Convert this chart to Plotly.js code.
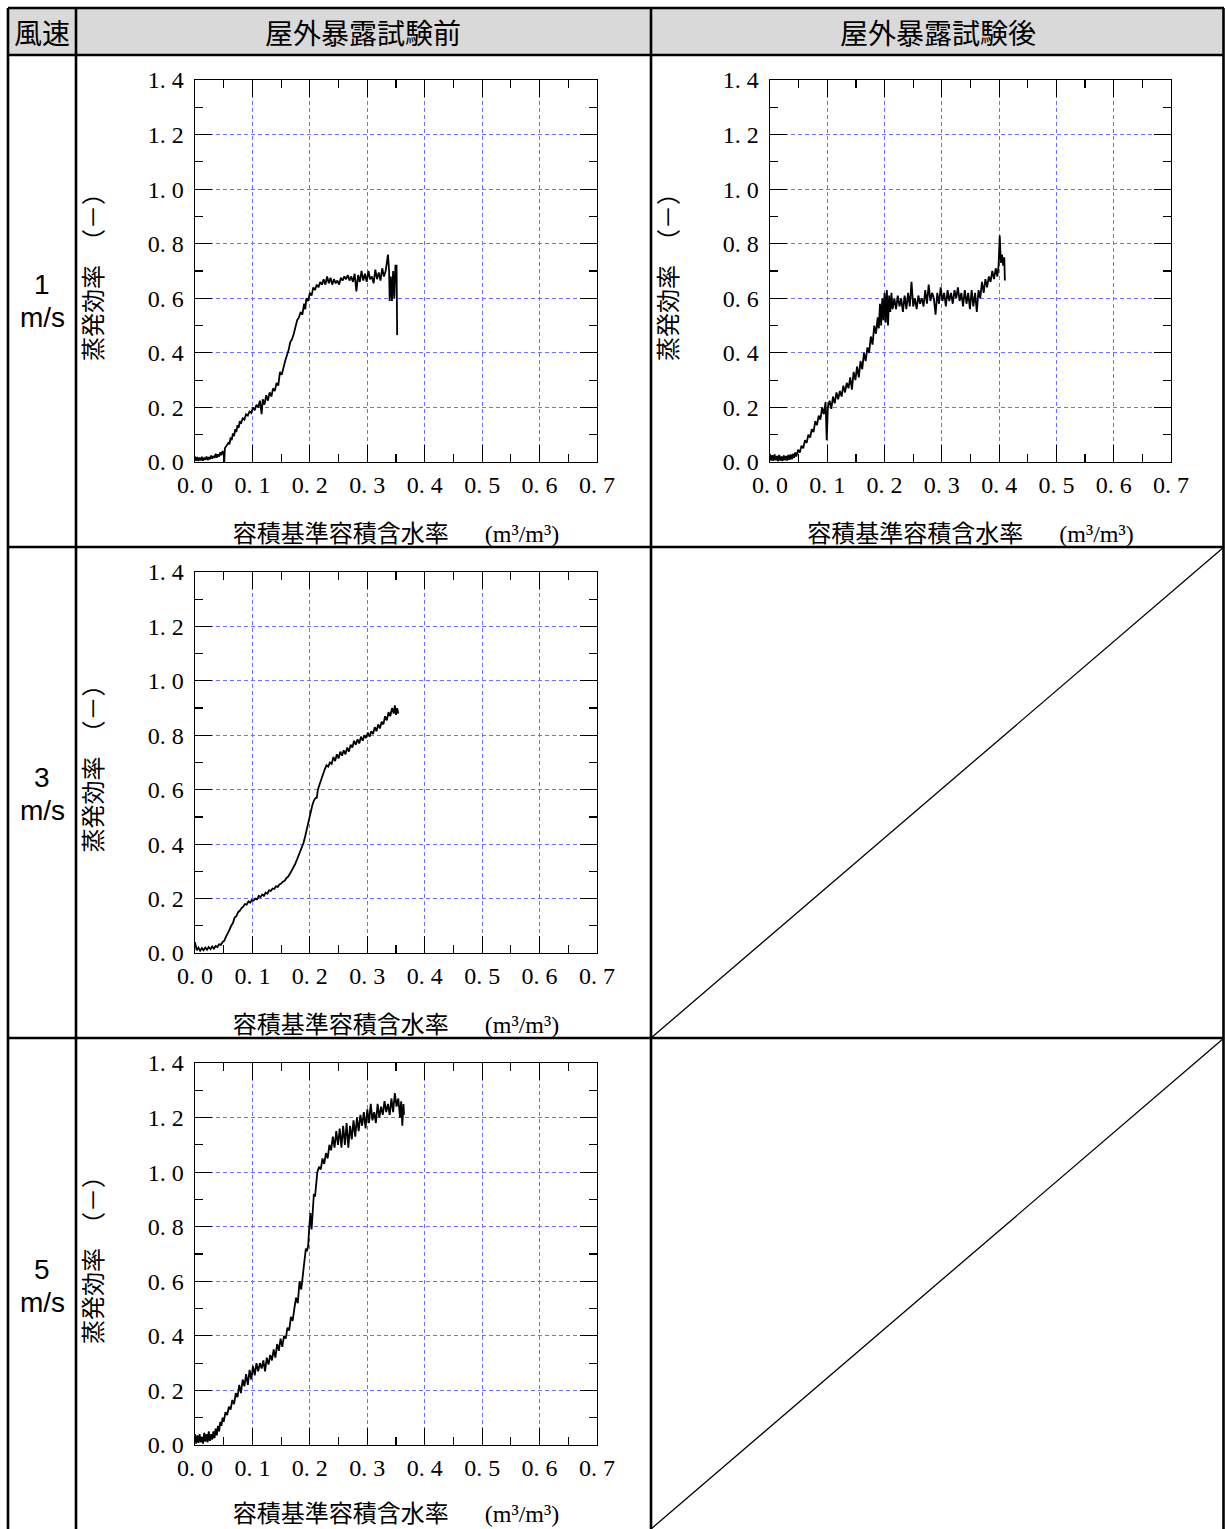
<!DOCTYPE html>
<html>
<head>
<meta charset="utf-8">
<script src="https://cdn.plot.ly/plotly-3.0.1.min.js"></script>
<style>html,body{margin:0;padding:0;background:#fff;}</style>
</head>
<body>
<div id="chart" style="width:1225px;height:1529px;"></div>
<script>
// ---------------- data ----------------
const headerSpeed = '風速';
const headerBefore = '屋外暴露試験前';
const headerAfter = '屋外暴露試験後';
const rowSpeeds = ['1', '3', '5'];
const rowUnit = 'm/s';
const xTitle = '容積基準容積含水率';
const xUnit = '(m³/m³)';
const yTitle = '蒸発効率　（－）';

const xTickVals = [0, 0.1, 0.2, 0.3, 0.4, 0.5, 0.6, 0.7];
const xTickText = ['0. 0', '0. 1', '0. 2', '0. 3', '0. 4', '0. 5', '0. 6', '0. 7'];
const yTickVals = [0, 0.2, 0.4, 0.6, 0.8, 1.0, 1.2, 1.4];
const yTickText = ['0. 0', '0. 2', '0. 4', '0. 6', '0. 8', '1. 0', '1. 2', '1. 4'];

// 1 m/s, before outdoor exposure
const wind1BeforeX = [0,0.002,0.004,0.006,0.008,0.010,0.012,0.014,0.016,0.018,0.020,0.022,0.024,0.026,0.028,0.030,0.032,0.034,0.036,0.038,0.040,0.042,0.044,0.046,0.048,0.050,0.051,0.052,
0.055,0.058,0.060,0.062,0.064,0.066,0.068,0.070,0.072,0.074,0.076,0.078,0.080,0.083,0.086,0.089,0.092,0.095,0.098,0.101,0.104,0.107,0.110,0.113,0.116,0.118,0.121,0.124,0.127,0.130,0.133,0.136,0.139,0.142,0.145,0.148,0.151,0.154,0.157,0.160,0.163,0.166,0.169,0.172,0.175,0.178,0.181,0.184,0.187,0.190,0.192,0.194,0.197,0.200,0.203,0.206,0.209,0.212,0.215,0.218,0.221,0.224,0.227,0.230,0.233,0.236,0.239,0.242,0.245,0.248,0.251,0.254,0.257,0.260,0.263,0.266,0.269,0.272,0.275,0.278,0.281,0.284,0.287,0.290,0.293,0.296,0.299,0.302,0.305,0.308,0.311,0.314,0.317,0.320,0.323,0.326,0.329,0.332,0.334,0.336,0.338,0.339,0.341,0.343,0.345,0.347,0.349,0.351,0.352];
const wind1BeforeY = [0.02,0.005,0.018,0.004,0.016,0.006,0.019,0.005,0.014,0.008,0.02,0.007,0.018,0.01,0.024,0.012,0.022,0.015,0.03,0.016,0.028,0.02,0.035,0.025,0.04,0.03,0.0,0.05,
0.06,0.07,0.065,0.09,0.08,0.105,0.095,0.12,0.11,0.135,0.125,0.15,0.14,0.16,0.155,0.175,0.17,0.185,0.18,0.2,0.19,0.21,0.2,0.225,0.175,0.23,0.21,0.245,0.225,0.255,0.24,0.27,0.26,0.29,0.28,0.33,0.32,0.35,0.37,0.39,0.41,0.44,0.45,0.47,0.5,0.52,0.53,0.55,0.54,0.58,0.56,0.6,0.59,0.62,0.61,0.64,0.63,0.65,0.64,0.66,0.65,0.67,0.65,0.68,0.655,0.675,0.65,0.67,0.655,0.665,0.65,0.675,0.665,0.68,0.67,0.685,0.665,0.68,0.66,0.69,0.625,0.685,0.66,0.7,0.665,0.69,0.66,0.7,0.67,0.68,0.655,0.705,0.67,0.695,0.665,0.71,0.68,0.7,0.73,0.76,0.7,0.59,0.68,0.59,0.7,0.6,0.72,0.72,0.465];

// 1 m/s, after outdoor exposure
const wind1AfterX = [0,0.002,0.004,0.006,0.008,0.010,0.012,0.014,0.016,0.018,0.020,0.022,0.024,0.026,0.028,0.030,0.032,0.034,0.036,0.038,0.040,0.042,0.044,0.046,
0.049,0.052,0.055,0.058,0.061,0.064,0.067,0.070,0.073,0.076,0.079,0.082,0.085,0.088,0.091,0.094,0.097,0.099,0.101,0.104,0.107,0.110,0.113,0.116,0.119,0.122,0.125,0.128,0.131,0.134,0.137,0.140,0.143,0.146,0.149,0.152,0.155,0.158,0.161,0.164,0.167,0.170,0.173,0.176,0.179,0.182,0.185,0.188,0.190,0.192,0.194,0.196,0.198,0.200,0.202,0.204,0.206,0.208,0.210,0.212,0.214,0.217,0.220,0.223,0.226,0.229,0.232,0.235,0.238,0.241,0.244,0.247,0.250,0.253,0.256,0.259,0.262,0.265,0.268,0.271,0.274,0.277,0.280,0.283,0.286,0.289,0.292,0.295,0.298,0.301,0.304,0.307,0.310,0.313,0.316,0.319,0.322,0.325,0.328,0.331,0.334,0.337,0.340,0.343,0.346,0.349,0.352,0.355,0.358,0.361,0.364,0.367,0.370,0.373,0.376,0.379,0.382,0.385,0.388,0.391,0.394,0.397,0.399,0.401,0.403,0.405,0.407,0.409,0.410];
const wind1AfterY = [0.03,0.005,0.025,0.004,0.028,0.006,0.022,0.003,0.026,0.005,0.02,0.004,0.024,0.006,0.022,0.005,0.026,0.008,0.028,0.01,0.03,0.015,0.035,0.02,
0.045,0.035,0.06,0.05,0.08,0.07,0.1,0.09,0.12,0.11,0.15,0.135,0.17,0.155,0.2,0.175,0.22,0.08,0.2,0.225,0.195,0.24,0.215,0.255,0.23,0.26,0.24,0.28,0.255,0.29,0.27,0.31,0.265,0.33,0.3,0.35,0.31,0.37,0.34,0.4,0.37,0.42,0.4,0.46,0.43,0.5,0.47,0.53,0.49,0.58,0.5,0.6,0.52,0.62,0.51,0.63,0.5,0.61,0.55,0.62,0.56,0.6,0.56,0.61,0.57,0.6,0.55,0.61,0.56,0.62,0.57,0.66,0.57,0.6,0.56,0.61,0.58,0.6,0.57,0.63,0.58,0.65,0.59,0.62,0.6,0.54,0.62,0.58,0.64,0.59,0.62,0.57,0.63,0.59,0.62,0.58,0.63,0.6,0.64,0.59,0.62,0.57,0.63,0.58,0.62,0.56,0.63,0.57,0.62,0.55,0.63,0.6,0.66,0.62,0.67,0.64,0.68,0.66,0.7,0.67,0.71,0.68,0.72,0.83,0.73,0.76,0.72,0.75,0.665];

// 3 m/s, before outdoor exposure
const wind3BeforeX = [0,0.003,0.006,0.009,0.012,0.015,0.018,0.021,0.024,0.027,0.030,0.033,0.036,0.039,0.042,0.045,0.048,0.051,0.054,0.057,0.060,0.063,0.066,0.069,0.072,0.075,0.078,0.081,0.084,0.087,0.090,0.093,0.096,0.099,0.102,0.105,0.108,0.111,0.114,0.117,0.120,0.123,0.126,0.129,0.132,0.135,0.138,0.141,0.144,0.147,0.150,0.153,0.156,0.159,0.162,0.165,0.168,0.171,0.174,0.177,0.180,0.183,0.186,0.189,0.192,0.195,0.198,0.201,0.204,0.207,0.210,0.212,0.214,0.217,0.220,0.223,0.226,0.229,0.232,0.235,0.238,0.241,0.244,0.247,0.250,0.253,0.256,0.259,0.262,0.265,0.268,0.271,0.274,0.277,0.280,0.283,0.286,0.289,0.292,0.295,0.298,0.301,0.304,0.307,0.310,0.313,0.316,0.319,0.322,0.325,0.328,0.331,0.334,0.337,0.340,0.343,0.346,0.348,0.350,0.352,0.354];
const wind3BeforeY = [0.04,0.01,0.02,0.008,0.018,0.01,0.02,0.012,0.022,0.014,0.024,0.016,0.026,0.022,0.032,0.03,0.04,0.045,0.06,0.07,0.085,0.1,0.11,0.13,0.135,0.15,0.155,0.165,0.17,0.18,0.178,0.19,0.185,0.195,0.192,0.2,0.197,0.21,0.205,0.215,0.21,0.222,0.218,0.23,0.228,0.237,0.235,0.245,0.243,0.252,0.255,0.262,0.265,0.275,0.28,0.29,0.3,0.315,0.325,0.34,0.355,0.37,0.39,0.405,0.43,0.46,0.49,0.51,0.54,0.56,0.57,0.57,0.6,0.62,0.64,0.66,0.675,0.69,0.685,0.7,0.695,0.72,0.705,0.73,0.715,0.74,0.725,0.745,0.73,0.755,0.74,0.765,0.755,0.78,0.765,0.785,0.77,0.795,0.78,0.8,0.79,0.81,0.795,0.815,0.805,0.83,0.815,0.84,0.825,0.85,0.84,0.87,0.855,0.885,0.87,0.9,0.88,0.91,0.875,0.9,0.88];

// 5 m/s, before outdoor exposure
const wind5BeforeX = [0,0.002,0.004,0.006,0.008,0.010,0.012,0.014,0.016,0.018,0.020,0.022,0.024,0.026,0.028,0.030,0.032,0.034,0.036,0.038,0.040,0.042,0.044,0.046,0.048,0.050,0.053,0.056,0.059,0.062,0.065,0.068,0.071,0.074,0.077,0.080,0.083,0.086,0.089,0.092,0.095,0.098,0.101,0.104,0.107,0.110,0.113,0.116,0.119,0.122,0.125,0.128,0.131,0.134,0.137,0.140,0.143,0.146,0.149,0.152,0.155,0.158,0.161,0.164,0.167,0.170,0.173,0.176,0.179,0.182,0.185,0.188,0.191,0.193,0.195,0.197,0.199,0.201,0.203,0.205,0.207,0.209,0.211,0.213,0.216,0.219,0.222,0.225,0.228,0.231,0.234,0.237,0.240,0.243,0.246,0.249,0.252,0.255,0.258,0.261,0.264,0.267,0.270,0.273,0.276,0.279,0.282,0.285,0.288,0.291,0.294,0.297,0.300,0.303,0.306,0.309,0.312,0.315,0.318,0.321,0.324,0.327,0.330,0.333,0.336,0.339,0.342,0.345,0.348,0.351,0.354,0.357,0.359,0.361,0.363,0.364];
const wind5BeforeY = [0.04,0.005,0.035,0.008,0.04,0.01,0.03,0.005,0.045,0.012,0.04,0.01,0.05,0.015,0.04,0.02,0.05,0.025,0.06,0.035,0.07,0.05,0.085,0.07,0.1,0.085,0.12,0.11,0.14,0.13,0.165,0.15,0.19,0.175,0.22,0.19,0.24,0.215,0.26,0.22,0.275,0.24,0.29,0.255,0.3,0.27,0.3,0.28,0.31,0.27,0.32,0.295,0.33,0.31,0.35,0.32,0.37,0.345,0.39,0.36,0.4,0.39,0.43,0.42,0.47,0.455,0.5,0.54,0.52,0.6,0.57,0.63,0.67,0.72,0.71,0.73,0.8,0.85,0.79,0.88,0.92,0.91,0.95,1.0,1.02,1.01,1.05,1.03,1.07,1.05,1.1,1.08,1.13,1.09,1.15,1.1,1.16,1.09,1.17,1.1,1.18,1.09,1.17,1.12,1.19,1.13,1.2,1.15,1.21,1.17,1.22,1.16,1.23,1.18,1.25,1.19,1.22,1.18,1.25,1.2,1.24,1.21,1.26,1.22,1.25,1.21,1.27,1.22,1.29,1.24,1.27,1.2,1.26,1.17,1.25,1.21];

// ---------------- geometry (pixels) ----------------
const W = 1225, H = 1529;
const px = v => v / W;
const py = v => 1 - v / H;

const serif = 'Liberation Serif, DejaVu Serif, serif';
const cjk = 'Noto Sans CJK JP, Noto Sans, sans-serif';

const plots = [
  {x: wind1BeforeX, y: wind1BeforeY, xl: 195, xr: 597, yt: 80, yb: 462},
  {x: wind1AfterX, y: wind1AfterY, xl: 770, xr: 1171, yt: 80, yb: 462},
  {x: wind3BeforeX, y: wind3BeforeY, xl: 195, xr: 597, yt: 572, yb: 953},
  {x: wind5BeforeX, y: wind5BeforeY, xl: 195, xr: 597, yt: 1063, yb: 1445}
];

const traces = [];
const layout = {
  width: W, height: H,
  margin: {l: 0, r: 0, t: 0, b: 0},
  paper_bgcolor: '#fff', plot_bgcolor: '#fff',
  showlegend: false, hovermode: false,
  font: {family: cjk, color: '#000'},
  shapes: [], annotations: []
};

plots.forEach((p, i) => {
  const n = i === 0 ? '' : String(i + 1);
  traces.push({
    type: 'scatter', mode: 'lines', x: p.x, y: p.y,
    xaxis: 'x' + n, yaxis: 'y' + n,
    line: {color: '#000', width: 1.8}
  });
  const common = {
    ticks: 'inside', ticklen: 17, tickwidth: 1.2, tickcolor: '#000',
    showline: true, linecolor: '#000', linewidth: 1.4, mirror: 'ticks',
    showgrid: true, gridcolor: '#6f6fff', gridwidth: 1, griddash: '4px,3px',
    zeroline: false, fixedrange: true,
    tickfont: {family: serif, size: 24, color: '#000'}
  };
  layout['xaxis' + n] = Object.assign({}, common, {
    domain: [px(p.xl), px(p.xr)], anchor: 'y' + n,
    range: [0, 0.7], tickmode: 'array', tickvals: xTickVals, ticktext: xTickText,
    minor: {tickmode: 'linear', tick0: 0, dtick: 0.05, ticks: 'inside', ticklen: 8, tickcolor: '#000', tickwidth: 1.2, showgrid: false},
    ticklabelstandoff: 1,
    title: {
      text: xTitle + '　\u2002<span style="font-family:Liberation Serif">' + xUnit + '</span>',
      font: {family: cjk, size: 24, color: '#000'}, standoff: 28
    }
  });
  layout['yaxis' + n] = Object.assign({}, common, {
    domain: [py(p.yb), py(p.yt)], anchor: 'x' + n,
    range: [0, 1.4], tickmode: 'array', tickvals: yTickVals, ticktext: yTickText,
    minor: {tickmode: 'linear', tick0: 0, dtick: 0.1, ticks: 'inside', ticklen: 8, tickcolor: '#000', tickwidth: 1.2, showgrid: false},
    ticklabelstandoff: 5,
    title: {text: yTitle, font: {family: cjk, size: 24, color: '#000'}, standoff: 38}
  });
});

// table: header background
layout.shapes.push({type: 'rect', xref: 'paper', yref: 'paper', layer: 'below',
  x0: px(8), x1: px(1224), y0: py(55), y1: py(8), fillcolor: '#d9d9d9', line: {width: 0}});
// table lines
const lw = 2.6;
[[8, 8, 1224, 8], [8, 55, 1224, 55], [8, 547, 1224, 547], [8, 1038, 1224, 1038],
 [8, 8, 8, 1529], [76, 8, 76, 1529], [651, 8, 651, 1529], [1223.5, 8, 1223.5, 1529]].forEach(s => {
  layout.shapes.push({type: 'line', xref: 'paper', yref: 'paper', layer: 'above',
    x0: px(s[0]), y0: py(s[1]), x1: px(s[2]), y1: py(s[3]), line: {color: '#000', width: lw}});
});
// diagonal strokes in empty cells
[[651, 1038, 1224, 547], [651, 1529, 1224, 1038]].forEach(s => {
  layout.shapes.push({type: 'line', xref: 'paper', yref: 'paper', layer: 'above',
    x0: px(s[0]), y0: py(s[1]), x1: px(s[2]), y1: py(s[3]), line: {color: '#000', width: 1.3}});
});

// header texts
const hdrFont = {family: cjk, size: 28, color: '#000'};
[[42, headerSpeed], [363, headerBefore], [938, headerAfter]].forEach(h => {
  layout.annotations.push({xref: 'paper', yref: 'paper', x: px(h[0]), y: py(32),
    text: h[1], showarrow: false, xanchor: 'center', yanchor: 'middle', font: hdrFont});
});
// row labels
const rowFont = {family: 'Liberation Sans, Arial, sans-serif', size: 28, color: '#000'};
[285, 777, 1269].forEach((yc, i) => {
  layout.annotations.push({xref: 'paper', yref: 'paper', x: px(42), y: py(yc),
    text: rowSpeeds[i], showarrow: false, xanchor: 'center', yanchor: 'middle', font: rowFont});
  layout.annotations.push({xref: 'paper', yref: 'paper', x: px(42), y: py(yc + 33),
    text: rowUnit, showarrow: false, xanchor: 'center', yanchor: 'middle', font: rowFont});
});

Plotly.newPlot('chart', traces, layout, {displayModeBar: false, staticPlot: true});
</script>
</body>
</html>
